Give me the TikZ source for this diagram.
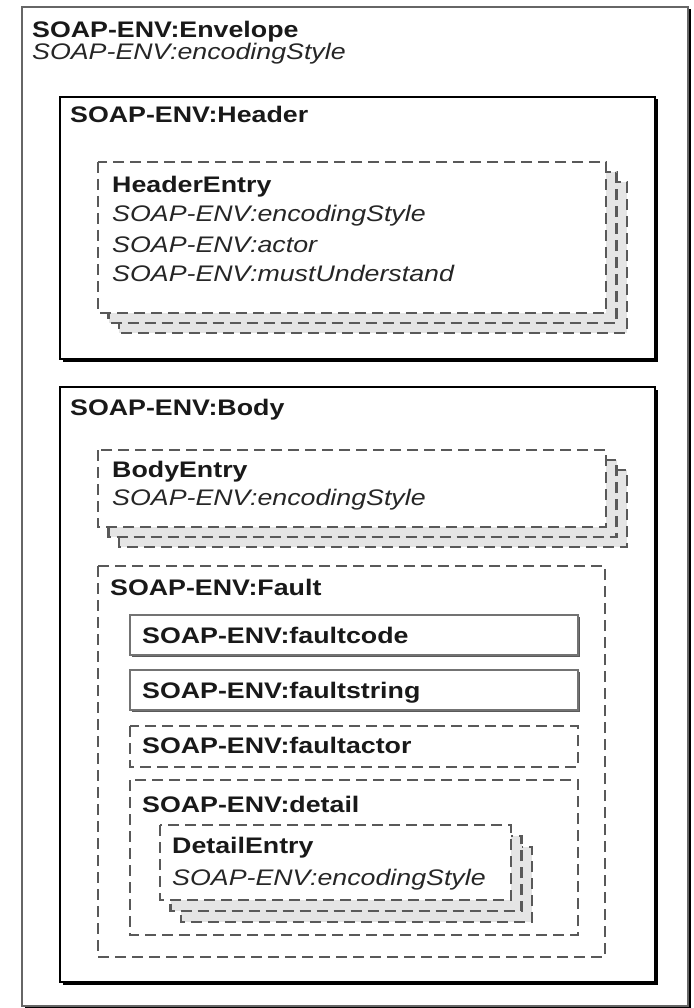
\documentclass[tikz,border=0pt]{standalone}
\usepackage{fontspec}
\setmainfont{Liberation Sans}[FakeStretch=1.19]
\usetikzlibrary{shadows}
\tikzset{
  ttl/.style={font=\fontsize{22.5}{27}\selectfont\bfseries, anchor=base west, inner sep=0pt, text=black!90},
  att/.style={font=\fontsize{22.5}{27}\selectfont\itshape, anchor=base west, inner sep=0pt, text=black!85},
  ebox/.style={draw=black!60, line width=2.5pt, fill=white,
    drop shadow={shadow xshift=2.5pt, shadow yshift=-2.5pt, opacity=1, fill=black}},
  sbox/.style={draw=black, line width=2pt, fill=white,
    drop shadow={shadow xshift=2.5pt, shadow yshift=-2.5pt, opacity=1, fill=black}},
  fbox/.style={draw=black!55, line width=1.5pt, fill=white,
    drop shadow={shadow xshift=1.5pt, shadow yshift=-1.5pt, opacity=1, fill=black!65}},
  dbox/.style={draw=black!65, line width=2.4pt, dash pattern=on 11pt off 6pt, fill=white},
}

\begin{document}
\begin{tikzpicture}[x=1pt, y=-1pt]
  \clip (0,0) rectangle (693,1008);
  % envelope
  \draw[ebox] (22,7) rectangle (688,1006);
  \node[ttl] (envT) at (32,38) {SOAP-ENV:Envelope};
  \node[att] (envA) at (32,60) {SOAP-ENV:encodingStyle};

  % header
  \draw[sbox] (60,97) rectangle (655,359);
  \node[ttl] (hdrT) at (70,123) {SOAP-ENV:Header};
  \foreach \o/\c in {2/black!10, 1/black!10, 0/white}
    \draw[dbox, fill=\c] (98+10.5*\o,162+10*\o) rectangle (606+10.5*\o,313+10*\o);
  \node[ttl] (hdrE) at (112,193) {HeaderEntry};
  \node[att] (hdrA) at (112,222) {SOAP-ENV:encodingStyle};
  \node[att] (hdrB) at (112,252) {SOAP-ENV:actor};
  \node[att] (hdrC) at (112,281) {SOAP-ENV:mustUnderstand};

  % body
  \draw[sbox] (60,387) rectangle (655,982);
  \node[ttl] (bdyT) at (70,415) {SOAP-ENV:Body};
  \foreach \o/\c in {2/black!10, 1/black!10, 0/white}
    \draw[dbox, fill=\c] (98+10.5*\o,450+10*\o) rectangle (606+10.5*\o,527+10*\o);
  \node[ttl] (bdyE) at (112,477) {BodyEntry};
  \node[att] (bdyA) at (112,505) {SOAP-ENV:encodingStyle};

  % fault
  \draw[dbox] (98,566) rectangle (605,957);
  \node[ttl] (fltT) at (110,595) {SOAP-ENV:Fault};
  \draw[fbox] (130,615) rectangle (578,655);
  \node[ttl] (fcode) at (142,643) {SOAP-ENV:faultcode};
  \draw[fbox] (130,670) rectangle (578,710);
  \node[ttl] (fstr) at (142,698) {SOAP-ENV:faultstring};
  \draw[dbox] (130,726) rectangle (578,767);
  \node[ttl] (fact) at (142,753) {SOAP-ENV:faultactor};

  % detail
  \draw[dbox] (130,780) rectangle (578,935);
  \node[ttl] (dtlT) at (142,812) {SOAP-ENV:detail};
  \foreach \o/\c in {2/black!10, 1/black!10, 0/white}
    \draw[dbox, fill=\c] (160+10.5*\o,825+11*\o) rectangle (511+10.5*\o,900+11*\o);
  \node[ttl] (dtlE) at (172,853) {DetailEntry};
  \node[att] (dtlA) at (172,885) {SOAP-ENV:encodingStyle};
\end{tikzpicture}
\end{document}
